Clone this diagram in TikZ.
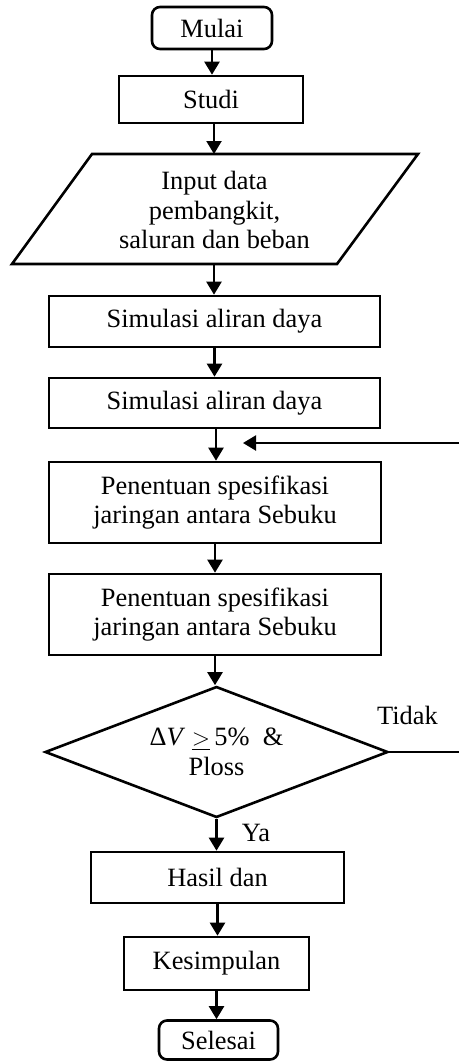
\documentclass[tikz,border=0pt]{standalone}
\usepackage{fontspec}
\setmainfont{Liberation Serif}
\usetikzlibrary{arrows.meta,shapes.geometric}
\begin{document}
\begin{tikzpicture}[x=0.5pt,y=-0.5pt,
  every node/.style={font=\fontsize{13.2}{14.75}\selectfont, align=center, inner sep=0pt},
  box/.style={draw, line width=1.3pt, rectangle},
  term/.style={draw, line width=1.3pt, rectangle, rounded corners=4pt},
  dec/.style={draw, line width=1.3pt, diamond, aspect=2.62},
  arr/.style={line width=1.1pt, -{Triangle[width=7.5pt,length=6.5pt]}},
  ln/.style={line width=1.1pt}]
\useasboundingbox (0,0) rectangle (459,1061);
\node[term, minimum width=60pt, minimum height=21pt] (mulai) at (212,28) {Mulai};
\node[box, minimum width=92pt, minimum height=23.5pt] (studi) at (211,99.5) {Studi};
\coordinate (p1) at (92,154);
\coordinate (p2) at (418,154);
\coordinate (p3) at (337,264);
\coordinate (p4) at (12,264);
\draw[line width=1.3pt, line join=miter] (p1) -- (p2) -- (p3) -- (p4) -- cycle;
\node (input) at (214.5,210) {Input data\\pembangkit,\\saluran dan beban};
\coordinate (inputtop) at (214,154);
\coordinate (inputbot) at (214,264);
\node[box, minimum width=165.5pt, minimum height=25.5pt] (sim1) at (214.5,321.5) {Simulasi aliran daya};
\node[box, minimum width=165.5pt, minimum height=25pt] (sim2) at (214.5,403) {Simulasi aliran daya};
\node[box, minimum width=166pt, minimum height=40.5pt] (pen1) at (215,502.5) {Penentuan spesifikasi\\jaringan antara Sebuku};
\node[box, minimum width=166pt, minimum height=40.5pt] (pen2) at (215,614.5) {Penentuan spesifikasi\\jaringan antara Sebuku};
\node[dec, minimum width=171.5pt, minimum height=65.5pt] (cek) at (216.5,752) {Δ\textit{V} \ensuremath{\underline{>}}\,5\%~~\&\\Ploss};
\node[box, minimum width=126.5pt, minimum height=25.5pt] (hasil) at (217.5,877.5) {Hasil dan};
\node[box, minimum width=92.5pt, minimum height=26.5pt] (kes) at (216.5,963.5) {Kesimpulan};
\node[term, minimum width=59.5pt, minimum height=19.5pt] (selesai) at (218.5,1040) {Selesai};
\node (tidak) at (407.5,715) {Tidak};
\node (ya) at (256,833) {Ya};
\coordinate (loopin) at (459,443);
\coordinate (loopend) at (243,443);
\coordinate (tidakend) at (459,752);
\draw[arr] (mulai.south) -- (mulai.south |- studi.north);
\draw[arr] (studi.south -| inputtop) -- (inputtop);
\draw[arr] (inputbot) -- (inputbot |- sim1.north);
\draw[arr] (sim1.south) -- (sim1.south |- sim2.north);
\draw[arr] ([xshift=0.75pt]sim2.south) -- ([xshift=0.75pt]sim2.south |- pen1.north);
\draw[arr] (pen1.south) -- (pen1.south |- pen2.north);
\draw[arr] (pen2.south) -- (pen2.south |- cek.north);
\draw[arr] (cek.south) -- (cek.south |- hasil.north);
\draw[arr] (hasil.south) -- (hasil.south |- kes.north);
\draw[arr] (kes.south) -- (kes.south |- selesai.north);
\draw[arr] (loopin) -- (loopend);
\draw[ln] (cek.east) -- (tidakend);
\end{tikzpicture}
\end{document}
